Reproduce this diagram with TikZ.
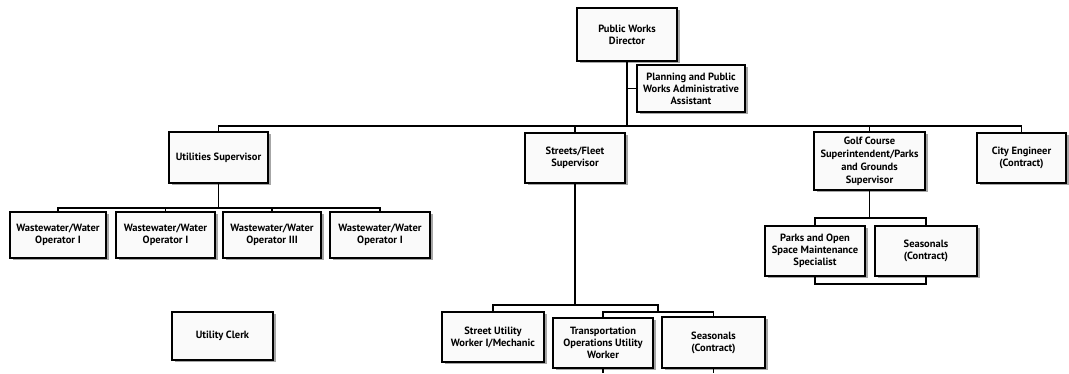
\documentclass[tikz,border=0pt]{standalone}
\usepackage{fontspec}
\setmainfont{PT Sans}
\usetikzlibrary{shadows}
\begin{document}
\begin{tikzpicture}[x=1pt,y=-1pt,
  box/.style={draw=black, line width=1.4pt, fill=gray!4, align=center,
    inner sep=1pt, font=\bfseries\fontsize{10.5}{12}\selectfont,
    drop shadow={shadow xshift=3pt, shadow yshift=-2pt, fill=gray!70, opacity=1}},
  conn/.style={line width=1.3pt, draw=black}]
\useasboundingbox (0,0) rectangle (1069,373);
\fill[white] (0,0) rectangle (1069,373);

\node[box, minimum width=100pt, minimum height=53pt] (dir) at (627,34.5) {Public Works\\Director};
\node[box, minimum width=108pt, minimum height=47pt] (asst) at (691,88.5) {Planning and Public\\Works Administrative\\Assistant};

\node[box, minimum width=99pt, minimum height=51pt] (util) at (218.5,157.5) {Utilities Supervisor};
\node[box, minimum width=100pt, minimum height=50pt] (streets) at (575,158) {Streets/Fleet\\Supervisor};
\node[box, minimum width=111pt, minimum height=58pt, font=\bfseries\fontsize{10.5}{13}\selectfont] (golf) at (869.5,161) {Golf Course\\Superintendent/Parks\\and Grounds\\Supervisor};
\node[box, minimum width=89pt, minimum height=50pt] (city) at (1021.5,158) {City Engineer\\(Contract)};

\node[box, minimum width=96pt, minimum height=46pt] (op1) at (58,235) {Wastewater/Water\\Operator I};
\node[box, minimum width=99pt, minimum height=46pt] (op2) at (165.5,235) {Wastewater/Water\\Operator I};
\node[box, minimum width=98pt, minimum height=46pt] (op3) at (272,235) {Wastewater/Water\\Operator III};
\node[box, minimum width=100pt, minimum height=46pt] (op4) at (380,235) {Wastewater/Water\\Operator I};

\node[box, minimum width=100pt, minimum height=50pt] (parks) at (815,251) {Parks and Open\\Space Maintenance\\Specialist};
\node[box, minimum width=102pt, minimum height=50pt] (seas1) at (926,251) {Seasonals\\(Contract)};

\node[box, minimum width=101pt, minimum height=48pt] (clerk) at (222.5,336) {Utility Clerk};

\node[box, minimum width=102pt, minimum height=50pt] (street) at (493,337) {Street Utility\\Worker I/Mechanic};
\node[box, minimum width=100pt, minimum height=50pt] (trans) at (603,343) {Transportation\\Operations Utility\\Worker};
\node[box, minimum width=103pt, minimum height=51pt] (seas2) at (713.5,342.5) {Seasonals\\(Contract)};

% coordinates
\coordinate (bus) at (627,126);
\coordinate (ub) at (218.5,208);
\coordinate (sb) at (575,305);
\coordinate (sbr) at (658,305);
\coordinate (sc) at (658,312);
\coordinate (gb) at (869.5,218);
\coordinate (gu) at (869.5,284);
\coordinate (t1) at (603,373);
\coordinate (t2) at (713.5,373);

% connectors
\draw[conn] (dir.south) -- (bus);
\draw[conn] (dir.south |- asst.west) -- (asst.west);
\draw[conn] (util.north) |- (bus) -| (city.north);
\draw[conn] (bus) -| (streets.north);
\draw[conn] (bus) -| (golf.north);

\draw[conn] (util.south) -- (ub);
\draw[conn] (op1.north) |- (ub) -| (op4.north);
\draw[conn] (ub) -| (op2.north);
\draw[conn] (ub) -| (op3.north);

\draw[conn] (streets.south) -- (sb);
\draw[conn] (street.north) |- (sb) -- (sbr) -- (sc);
\draw[conn] (trans.north) |- (sc) -| (seas2.north);
\draw[conn] (trans.south) -- (t1);
\draw[conn] (seas2.south) -- (t2);

\draw[conn] (golf.south) -- (gb);
\draw[conn] (parks.north) |- (gb) -| (seas1.north);
\draw[conn] (parks.south) |- (gu) -| (seas1.south);
\end{tikzpicture}
\end{document}
